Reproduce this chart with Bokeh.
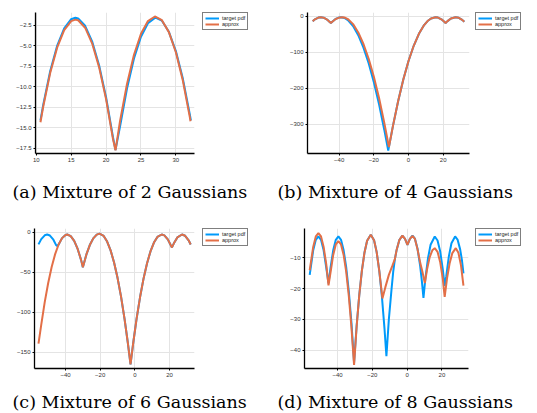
from bokeh.plotting import figure
from bokeh.models import Range1d, FixedTicker, Legend, LegendItem, CustomJSTickFormatter
from bokeh.core.properties import value
from bokeh.layouts import column, row
from bokeh.embed import file_html
from bokeh.resources import INLINE

BLUE = "#009AFA"
ORANGE = "#E36F47"

# ---------------- data ----------------
# (a) Mixture of 2 Gaussians
a_x_target = [10.6, 11, 12, 13, 14, 15, 15.6, 16, 17, 18, 19, 20, 21, 21.35, 22, 23, 24, 25, 26, 27, 27.15, 28, 29, 30, 31, 32, 32.15]
a_y_target = [-14.1, -12.18, -8.08, -4.98, -2.88, -1.78, -1.6, -1.68, -2.58, -4.48, -7.38, -11.28, -16.18, -17.7, -14.86, -10.21, -6.56, -3.91, -2.26, -1.61, -1.6, -1.96, -3.31, -5.66, -9.01, -13.36, -14.1]
a_x_approx = [10.6, 11, 12, 13, 14, 15, 15.6, 16, 17, 18, 19, 20, 21, 21.35, 22, 23, 24, 25, 26, 27, 27.05, 28, 29, 30, 31, 32, 32.1]
a_y_approx = [-14.33, -12.41, -8.31, -5.21, -3.11, -2.01, -1.83, -1.91, -2.81, -4.71, -7.61, -11.51, -16.41, -17.75, -14.2, -9.65, -6.1, -3.55, -2.0, -1.45, -1.45, -1.9, -3.35, -5.8, -9.25, -13.7, -14.2]
a_xticks = [10, 15, 20, 25, 30]
a_yticks = [-2.5, -5.0, -7.5, -10.0, -12.5, -15.0, -17.5]

# (b) Mixture of 4 Gaussians
b_x_target = [-55.3, -54, -52, -50.6, -49, -47, -45.5, -44.8, -44, -42, -40, -39, -37, -35, -32, -29, -26, -23, -20, -17, -14, -11.7, -9, -6, -3, 0, 3, 6, 9, 11, 13, 15.6, 17, 19, 20.5, 21.4, 22.5, 24.5, 27.15, 29, 31, 32.2]
b_y_target = [-13.3, -8.1, -3.3, -2.3, -3.6, -8.8, -15.3, -18.0, -14.8, -6.8, -2.8, -2.3, -4.3, -10.3, -26.8, -52.3, -86.8, -130.3, -182.8, -244.3, -314.8, -373, -304.9, -235.6, -175.3, -124, -81.7, -48.4, -24.1, -12.9, -5.7, -2.3, -3.3, -8.1, -14.3, -18.3, -13.1, -5.8, -2.3, -4.0, -9.7, -15.05]
b_x_approx = [-55.3, -54, -52, -50.6, -49, -47, -45.5, -44.8, -44, -42, -40, -38.2, -37, -35, -32, -29, -26, -23, -20, -17, -14, -11.3, -9, -6, -3, 0, 3, 6, 9, 11, 13, 15.6, 17, 19, 20.5, 21.4, 22.5, 24.5, 27.15, 29, 31, 32.2]
b_y_approx = [-13.3, -8.1, -3.3, -2.3, -3.6, -8.8, -15.3, -18.0, -14.8, -7.2, -3.3, -2.3, -3.0, -7.4, -21.5, -44.6, -76.7, -117.8, -167.9, -227, -295.1, -363, -304.9, -235.6, -175.3, -124, -81.7, -48.4, -24.1, -12.9, -5.7, -2.3, -3.3, -8.1, -14.3, -18.3, -13.1, -5.8, -2.3, -4.0, -9.7, -15.05]
b_xticks = [-40, -20, 0, 20]
b_yticks = [0, -100, -200, -300]

# (c) Mixture of 6 Gaussians
c_x_target = [-55.6, -54, -52, -50.6, -49, -47, -45.5, -44.8, -44, -42, -40, -39, -37, -35, -33, -31, -30, -28, -26, -24, -22, -20.4, -18, -16, -14, -12, -10, -8, -6, -4, -2.5, -1, 1, 3, 5, 7, 9, 11, 13, 15.5, 17, 19, 20.5, 21.4, 22.5, 24.5, 27.2, 29, 31, 32.2]
c_y_target = [-15.0, -8.5, -3.7, -2.7, -4.0, -9.2, -15.7, -17.0, -15.2, -7.2, -3.2, -2.7, -4.7, -10.7, -20.7, -34.7, -43.6, -27.9, -15.9, -7.5, -2.8, -1.6, -4.5, -11.5, -22.5, -37.6, -56.8, -80, -107.4, -138.8, -164.8, -138.8, -107.8, -80.8, -57.8, -38.8, -23.8, -12.8, -5.8, -2.7, -3.8, -8.8, -15.2, -18.8, -13.7, -6.3, -2.7, -4.3, -9.9, -15.2]
c_x_approx = [-55.6, -54, -52, -50, -48, -46, -44, -42, -40, -39, -37, -35, -33, -31, -30, -28, -26, -24, -22, -20.4, -18, -16, -14, -12, -10, -8, -6, -4, -2.5, -1, 1, 3, 5, 7, 9, 11, 13, 15.5, 17, 19, 20.5, 21.4, 22.5, 24.5, 27.2, 29, 31, 32.2]
c_y_approx = [-139, -115.2, -87.2, -63.2, -43.2, -27.2, -15.2, -7.2, -3.2, -2.7, -4.7, -10.7, -20.7, -34.7, -43.6, -27.9, -15.9, -7.5, -2.8, -1.6, -4.5, -11.5, -22.5, -37.6, -56.8, -80, -107.4, -138.8, -164.8, -138.8, -107.8, -80.8, -57.8, -38.8, -23.8, -12.8, -5.8, -2.7, -3.8, -8.8, -15.2, -18.8, -13.7, -6.3, -2.7, -4.3, -9.9, -15.2]
c_xticks = [-40, -20, 0, 20]
c_yticks = [0, -50, -100, -150]

# (d) Mixture of 8 Gaussians
d_x_target = [-56.0, -54, -52.5, -51, -49.5, -48, -46.5, -45.2, -44, -42.5, -41, -39.5, -38, -36.5, -35, -33.5, -32, -30.5, -29, -27.5, -26, -24.5, -23, -20.9, -19, -17.5, -16, -14.5, -13, -11.9, -10.5, -9, -8, -7, -6, -4.5, -2.7, -1.2, 0.2, 1.6, 3.1, 4.5, 6, 7.5, 8.5, 9.4, 10.5, 12, 13.5, 15.9, 17.5, 19, 20.5, 21.6, 22.5, 24, 25.5, 27.6, 29, 30.5, 31.5, 32.4]
d_y_target = [-15.5, -7.5, -4.1, -3.0, -4.1, -7.5, -13.1, -18.3, -13.1, -7.5, -4.1, -3.0, -4.1, -7.5, -13.1, -21, -31.1, -44.1, -31.9, -22, -14.1, -8.2, -4.4, -2.4, -4.2, -8.1, -14.2, -22.5, -33, -42, -30, -20.5, -14.5, -10.3, -7.3, -4.2, -2.7, -3.8, -5.7, -3.8, -2.7, -3.7, -7, -12.6, -17.6, -23, -16.7, -10.1, -5.7, -3.0, -4.3, -7.8, -13.6, -19.1, -16, -9.5, -5.2, -3.0, -4, -7.2, -10.6, -15.0]
d_x_approx = [-56.0, -54, -52.5, -51, -49.5, -48, -46.5, -45.2, -44, -42.5, -41, -39.5, -38, -36.5, -35, -33.5, -32, -30.5, -29, -27.5, -26, -24.5, -23, -20.9, -19, -17.5, -16, -14.2, -12.5, -10.5, -8.5, -7, -6, -4.5, -2.7, -1.2, 0.2, 1.6, 3.1, 4.5, 6, 7.5, 8.8, 10.2, 11.5, 13, 14.5, 15.9, 17.5, 19, 20.5, 21.6, 23, 24.5, 26, 28, 29.5, 31, 32.4]
d_y_approx = [-14.0, -6.4, -3.0, -1.9, -3.0, -6.4, -12, -18.9, -14.6, -9, -5.6, -4.5, -5.6, -9, -14.6, -22.5, -32.6, -44.8, -32.2, -22, -14.1, -8.2, -4.4, -2.4, -4.2, -8.1, -14.2, -23.2, -19.5, -15.5, -12.6, -10.3, -7.3, -4.2, -2.7, -3.8, -5.7, -3.8, -2.8, -3.8, -7.2, -11.5, -14.5, -18.2, -13.6, -9.7, -7.5, -6.8, -8.0, -11.3, -16.7, -22.7, -16.5, -11.6, -8.4, -6.8, -8.3, -12.5, -19.0]
d_xticks = [-40, -20, 0, 20]
d_yticks = [-10, -20, -30, -40]

captions = ["(a) Mixture of 2 Gaussians", "(b) Mixture of 4 Gaussians",
            "(c) Mixture of 6 Gaussians", "(d) Mixture of 8 Gaussians"]
legend_labels = ["target pdf", "approx"]

NAN = float("nan")


def fmt(digits):
    return CustomJSTickFormatter(args=dict(d=digits), code="""
        const s = Math.abs(tick).toFixed(d);
        return tick < 0 ? "\u2212" + s : s;
    """)


def plot_panel(w, h, xr, yr, xt, yt, ydig, bl, br, bt, bb, xs_t, ys_t, xs_a, ys_a):
    p = figure(width=w, height=h, x_range=Range1d(*xr), y_range=Range1d(*yr),
               output_backend="svg", toolbar_location=None,
               min_border_left=bl, min_border_right=br, min_border_top=bt,
               min_border_bottom=bb)
    p.outline_line_color = None
    p.background_fill_color = "white"
    p.border_fill_color = "white"
    for ax, ticks, dig in ((p.xaxis[0], xt, 0), (p.yaxis[0], yt, ydig)):
        ax.ticker = FixedTicker(ticks=ticks)
        ax.formatter = fmt(dig)
        ax.axis_line_color = "black"
        ax.axis_line_width = 1.3
        ax.major_tick_out = 2
        ax.major_tick_in = 0
        ax.major_tick_line_color = "black"
        ax.minor_tick_out = 0
        ax.minor_tick_in = 0
        ax.major_label_text_font = "Liberation Sans"
        ax.major_label_text_font_size = "6px"
        ax.major_label_text_color = "#333333"
        ax.major_label_standoff = 2
    for g in (p.xgrid[0], p.ygrid[0]):
        g.grid_line_color = "#e4e4e4"
        g.grid_line_width = 1
    p.line(xs_t, ys_t, line_color=BLUE, line_width=2)
    p.line(xs_a, ys_a, line_color=ORANGE, line_width=2)
    return p


def legend_panel(w, h, bl, bt):
    p = figure(width=w, height=h, x_range=Range1d(0, 1), y_range=Range1d(0, 1),
               x_axis_type=None, y_axis_type=None,
               output_backend="svg", toolbar_location=None,
               min_border_left=bl, min_border_right=0, min_border_top=bt,
               min_border_bottom=0)
    p.outline_line_color = None
    p.xgrid.visible = False
    p.ygrid.visible = False
    r1 = p.line([NAN], [NAN], line_color=BLUE, line_width=2)
    r2 = p.line([NAN], [NAN], line_color=ORANGE, line_width=2)
    leg = Legend(items=[LegendItem(label=legend_labels[0], renderers=[r1]),
                        LegendItem(label=legend_labels[1], renderers=[r2])],
                 location="top_left", margin=0, padding=2, spacing=0,
                 glyph_width=14, glyph_height=6, label_height=6, label_standoff=3,
                 label_text_font="Liberation Sans", label_text_font_size="5.5px",
                 label_text_color="#222222",
                 border_line_color="black", border_line_width=1,
                 background_fill_color="white", background_fill_alpha=1)
    p.add_layout(leg)
    return p


def caption_panel(w, h, text, x0, yc):
    p = figure(width=w, height=h, x_range=Range1d(0, w), y_range=Range1d(0, h),
               x_axis_type=None, y_axis_type=None, output_backend="svg",
               toolbar_location=None, min_border=0)
    p.outline_line_color = None
    p.xgrid.visible = False
    p.ygrid.visible = False
    p.text(x=[x0], y=[yc], text=[text], text_font=value("DejaVu Serif"),
           text_font_size="17.5px", text_align="left", text_baseline="middle",
           text_color="black")
    return p


pa = plot_panel(200, 168, (9.89, 32.67), (-18.13, -0.96), a_xticks, a_yticks, 1,
                35, 6, 8, 15, a_x_target, a_y_target, a_x_approx, a_y_approx)
la = legend_panel(70, 168, 2, 12)
pb = plot_panel(205, 168, (-58.3, 35.2), (-381, 10.8), b_xticks, b_yticks, 0,
                37, 6, 8, 15, b_x_target, b_y_target, b_x_approx, b_y_approx)
lb = legend_panel(62, 168, 0, 12)
pc = plot_panel(200, 167, (-57.9, 34.4), (-170, 4.8), c_xticks, c_yticks, 0,
                34, 6, 9, 12, c_x_target, c_y_target, c_x_approx, c_y_approx)
lc = legend_panel(70, 167, 2, 15)
pd = plot_panel(205, 167, (-59.0, 35.3), (-46.0, -0.4), d_xticks, d_yticks, 0,
                34, 7, 9, 12, d_x_target, d_y_target, d_x_approx, d_y_approx)
ld = legend_panel(62, 167, 0, 15)

ca = caption_panel(270, 45, captions[0], 12, 22)
cb = caption_panel(267, 45, captions[1], 7, 22)
cc = caption_panel(270, 32, captions[2], 12, 11)
cd = caption_panel(267, 32, captions[3], 7, 11)

layout = column(row(pa, la, pb, lb), row(ca, cb), row(pc, lc, pd, ld), row(cc, cd))
open("out.html", "w").write(file_html(layout, INLINE))
